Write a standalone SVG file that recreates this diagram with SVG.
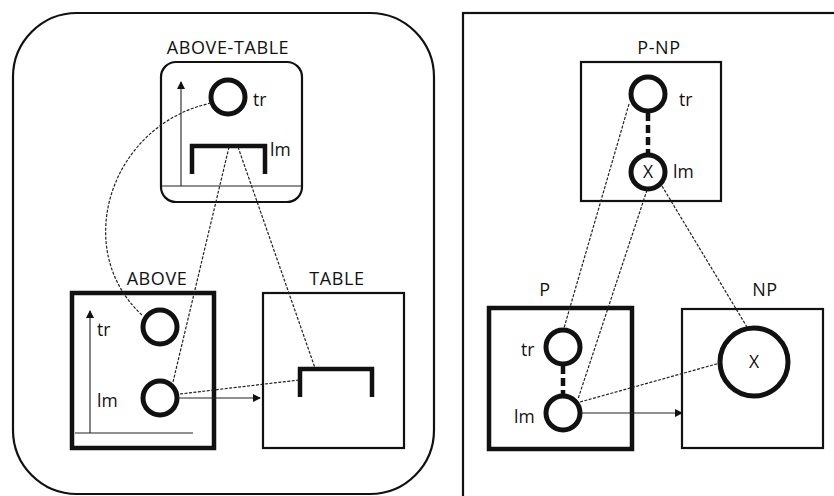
<svg xmlns="http://www.w3.org/2000/svg" width="834" height="496" viewBox="0 0 834 496">
<style>
text{font-family:"Open Sans","Liberation Sans",sans-serif;font-size:17.5px;fill:#111}
.lbl{text-anchor:middle;font-size:18px;letter-spacing:0.6px}
.frame{fill:none;stroke:#111;stroke-width:2.2}
.thick{fill:none;stroke:#111;stroke-width:4.5}
.circ{fill:#fff;stroke:#111;stroke-width:5}
.thin{fill:none;stroke:#222;stroke-width:1.1}
.dot{fill:none;stroke:#222;stroke-width:1.2;stroke-dasharray:3 1.5}
.bar{fill:none;stroke:#111;stroke-width:4.5;stroke-linecap:butt}
.tdash{fill:none;stroke:#111;stroke-width:4.5;stroke-dasharray:8 4}
</style>
<defs>
<marker id="ah" markerWidth="8" markerHeight="8" refX="7" refY="4" orient="auto" markerUnits="userSpaceOnUse">
<path d="M0,0 L8,4 L0,8 Z" fill="#111"/>
</marker>
</defs>

<g id="panel-left">
<rect class="frame" x="13" y="13" width="421" height="481" rx="64"/>
</g>
<g id="panel-right">
<rect class="frame" x="463" y="13" width="380" height="490"/>
</g>

<g id="above-table">
<text class="lbl" x="228" y="54">ABOVE-TABLE</text>
<rect class="frame" x="161" y="62" width="141" height="140" rx="15"/>
<line class="thin" x1="162" y1="186" x2="301" y2="186"/>
<line class="thin" x1="181" y1="186" x2="181" y2="82" marker-end="url(#ah)"/>
<circle class="circ" cx="228" cy="97" r="17"/>
<text x="253" y="106">tr</text>
<path class="bar" d="M192,174 V146 H265 V174"/>
<text x="270" y="156">lm</text>
</g>

<g id="above">
<text class="lbl" x="157" y="285">ABOVE</text>
<rect class="thick" x="72" y="293" width="142" height="155"/>
<line class="thin" x1="75" y1="433" x2="193" y2="433"/>
<line class="thin" x1="90" y1="433" x2="90" y2="311" marker-end="url(#ah)"/>
<circle class="circ" cx="160" cy="327" r="17"/>
<text x="97" y="336">tr</text>
<circle class="circ" cx="160" cy="398" r="17"/>
<text x="97" y="407">lm</text>
</g>

<g id="table">
<text class="lbl" x="337" y="285">TABLE</text>
<rect class="frame" x="263" y="293" width="141" height="155"/>
<path class="bar" d="M300,397 V369 H372 V397"/>
</g>

<g id="p-np">
<text class="lbl" x="659" y="54">P-NP</text>
<rect class="frame" x="581" y="62" width="140" height="139"/>
<line class="tdash" x1="648" y1="113" x2="648" y2="153"/>
<circle class="circ" cx="648" cy="94" r="17"/>
<text x="679" y="106">tr</text>
<circle class="circ" cx="648" cy="172" r="17"/>
<text x="648" y="178" text-anchor="middle">X</text>
<text x="673" y="178">lm</text>
</g>

<g id="p">
<text class="lbl" x="545" y="296">P</text>
<rect class="thick" x="489" y="308" width="143" height="141"/>
<line class="tdash" x1="563" y1="366" x2="563" y2="394"/>
<circle class="circ" cx="563" cy="347" r="17"/>
<text x="521" y="356">tr</text>
<circle class="circ" cx="563" cy="413" r="17"/>
<text x="514" y="423">lm</text>
</g>

<g id="np">
<text class="lbl" x="765" y="296">NP</text>
<rect class="frame" x="682" y="309" width="141" height="139"/>
<circle class="circ" cx="754" cy="362" r="34"/>
<text x="754" y="368" text-anchor="middle">X</text>
</g>

<g id="connectors">
<path class="dot" d="M211,103 C110,125 70,250 143,316" stroke-dasharray="4 2"/>
<line class="dot" x1="229" y1="147" x2="173" y2="382"/>
<line class="dot" x1="238" y1="147" x2="315" y2="368"/>
<line class="dot" x1="180" y1="394" x2="299" y2="380"/>
<line class="thin" x1="178" y1="398" x2="260" y2="398" marker-end="url(#ah)"/>
<line class="dot" x1="629" y1="104" x2="564" y2="328"/>
<line class="dot" x1="647" y1="190" x2="578" y2="399"/>
<line class="dot" x1="662" y1="186" x2="747" y2="327"/>
<line class="dot" x1="580" y1="402" x2="720" y2="363"/>
<line class="thin" x1="581" y1="413" x2="682" y2="413" marker-end="url(#ah)"/>
</g>
</svg>
